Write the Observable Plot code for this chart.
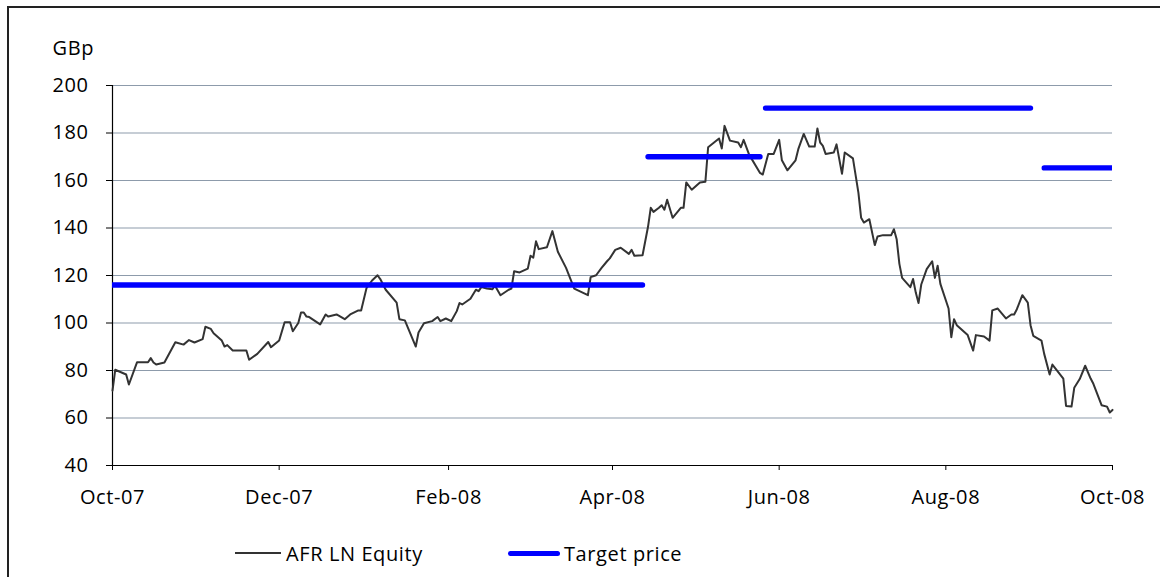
<!DOCTYPE html>
<html>
<head>
<meta charset="utf-8">
<script src="https://cdn.jsdelivr.net/npm/d3@7"></script>
<script src="https://cdn.jsdelivr.net/npm/@observablehq/plot@0.6"></script>
<style>
  html, body { margin: 0; padding: 0; background: #fff; overflow: hidden; }
  body { width: 1160px; height: 577px; position: relative; font-family: "Open Sans", sans-serif; }
  #frame { position: absolute; left: 7px; top: 6px; width: 1200px; height: 620px; border: 2px solid #222; box-sizing: border-box; pointer-events: none; }
  #chart { position: absolute; left: 0; top: 0; }
  #legend { position: absolute; left: 0; top: 530px; width: 1160px; height: 47px; font-size: 20px; letter-spacing: 0.6px; color: #000; }
  .item { position: absolute; top: 10px; display: flex; align-items: center; height: 26px; }
  .swatch { display: inline-block; }
</style>
</head>
<body>
<div id="chart"></div>
<div id="legend">
  <div class="item" style="left:235px"><span class="swatch" style="width:46px;height:0;border-top:2px solid #333;margin-right:5px"></span><span>AFR LN Equity</span></div>
  <div class="item" style="left:508px"><span class="swatch" style="width:52px;height:5px;background:#0000ff;border-radius:3px;margin-right:4px"></span><span>Target price</span></div>
</div>
<div id="frame"></div>
<script>
// ---- Data ----
const priceDates = [
  "2007-10-01","2007-10-02","2007-10-06","2007-10-07","2007-10-10","2007-10-14","2007-10-15","2007-10-16","2007-10-17","2007-10-20",
  "2007-10-24","2007-10-27","2007-10-29","2007-10-31","2007-11-03","2007-11-04","2007-11-06","2007-11-07","2007-11-10","2007-11-11",
  "2007-11-12","2007-11-14","2007-11-19","2007-11-20","2007-11-23","2007-11-27","2007-11-28","2007-12-01","2007-12-03","2007-12-05",
  "2007-12-06","2007-12-08","2007-12-09","2007-12-10","2007-12-11","2007-12-12","2007-12-16","2007-12-18","2007-12-19","2007-12-22",
  "2007-12-25","2007-12-27","2007-12-30","2007-12-31","2008-01-02","2008-01-04","2008-01-06","2008-01-07","2008-01-09","2008-01-13",
  "2008-01-14","2008-01-16","2008-01-20","2008-01-21","2008-01-23","2008-01-26","2008-01-28","2008-01-29","2008-01-31","2008-02-02",
  "2008-02-04","2008-02-05","2008-02-06","2008-02-09","2008-02-11","2008-02-12","2008-02-13","2008-02-15","2008-02-17","2008-02-18",
  "2008-02-20","2008-02-23","2008-02-24","2008-02-25","2008-02-27","2008-03-01","2008-03-02","2008-03-03","2008-03-04","2008-03-05",
  "2008-03-08","2008-03-10","2008-03-12","2008-03-15","2008-03-18","2008-03-23","2008-03-24","2008-03-26","2008-03-28","2008-03-30",
  "2008-03-31","2008-04-02","2008-04-04","2008-04-07","2008-04-08","2008-04-09","2008-04-12","2008-04-14","2008-04-15","2008-04-16",
  "2008-04-18","2008-04-19","2008-04-20","2008-04-21","2008-04-23","2008-04-26","2008-04-27","2008-04-28","2008-04-30","2008-05-03",
  "2008-05-05","2008-05-06","2008-05-10","2008-05-11","2008-05-12","2008-05-14","2008-05-17","2008-05-18","2008-05-19","2008-05-21",
  "2008-05-25","2008-05-26","2008-05-28","2008-05-30","2008-06-01","2008-06-02","2008-06-04","2008-06-07","2008-06-08","2008-06-10",
  "2008-06-12","2008-06-14","2008-06-15","2008-06-16","2008-06-17","2008-06-18","2008-06-21","2008-06-22","2008-06-24","2008-06-25",
  "2008-06-28","2008-06-30","2008-07-01","2008-07-02","2008-07-04","2008-07-06","2008-07-07","2008-07-09","2008-07-12","2008-07-13",
  "2008-07-14","2008-07-15","2008-07-16","2008-07-19","2008-07-20","2008-07-21","2008-07-22","2008-07-23","2008-07-25","2008-07-27",
  "2008-07-28","2008-07-29","2008-07-30","2008-08-02","2008-08-03","2008-08-04","2008-08-05","2008-08-09","2008-08-11","2008-08-12",
  "2008-08-15","2008-08-17","2008-08-18","2008-08-20","2008-08-23","2008-08-25","2008-08-26","2008-08-27","2008-08-29","2008-08-31",
  "2008-09-01","2008-09-02","2008-09-05","2008-09-06","2008-09-08","2008-09-09","2008-09-13","2008-09-14","2008-09-16","2008-09-17",
  "2008-09-19","2008-09-21","2008-09-23","2008-09-24","2008-09-27","2008-09-29","2008-09-30","2008-10-01"
];
const priceValues = [
  71.5,80.3,78.3,74.1,83.5,83.5,85.2,83.4,82.5,83.4,
  91.9,90.9,92.8,91.8,93.2,98.4,97.5,95.7,92.6,90.1,
  90.7,88.4,88.4,84.5,87.0,92.0,89.8,92.6,100.3,100.3,
  96.5,100.0,104.4,104.4,102.7,102.5,99.4,103.6,102.7,103.6,
  101.6,103.6,105.3,105.3,114.8,117.9,120.1,118.5,114.0,108.6,
  101.6,101.1,90.1,96.0,99.9,100.8,102.5,100.8,101.9,100.8,
  105.0,108.4,107.8,110.2,114.0,113.4,115.1,114.5,114.2,115.7,
  111.7,114.0,114.5,121.8,121.3,122.9,128.3,127.5,134.4,131.1,
  131.9,138.7,130.0,123.2,114.5,111.7,119.3,120.1,123.2,126.0,
  127.2,130.8,131.7,129.1,130.8,128.3,128.5,140.5,148.5,146.8,
  148.5,149.6,147.7,151.9,144.3,148.5,148.5,159.2,156.1,159.2,
  159.5,174.0,177.7,173.5,183.0,176.8,176.0,174.0,177.1,170.9,
  163.2,162.5,171.2,171.2,177.1,168.5,164.3,168.5,173.2,179.6,
  174.3,174.3,181.9,176.0,174.6,171.2,171.8,175.2,162.8,171.8,
  169.3,154.9,144.3,142.3,143.7,132.8,136.4,137.0,137.0,139.5,
  135.3,124.9,119.0,115.1,118.5,112.8,108.4,116.2,122.7,126.0,
  119.0,124.1,116.5,106.1,94.0,101.6,99.1,94.9,88.4,94.9,
  94.3,92.6,105.3,106.1,101.9,103.6,103.6,105.8,111.7,108.6,
  99.1,94.6,92.6,87.0,78.3,82.5,76.6,65.1,64.8,72.7,
  76.4,82.0,76.6,74.4,65.4,64.8,62.3,63.4
];
const targetStart = ["2007-10-01","2008-04-14","2008-05-27","2008-09-06"];
const targetEnd   = ["2008-04-12","2008-05-25","2008-09-01","2008-10-01"];
const targetValue = [116, 170, 190.5, 165.3];
const yTicks = [40, 60, 80, 100, 120, 140, 160, 180, 200];
const xTickDates = ["2007-10-01","2007-12-01","2008-02-01","2008-04-01","2008-06-01","2008-08-01","2008-10-01"];
const yUnit = "GBp";

// ---- Build ----
const parse = d3.utcParse("%Y-%m-%d");
const price = priceDates.map((d, i) => ({date: parse(d), value: priceValues[i]}));
const targets = targetStart.map((d, i) => ({x1: parse(d), x2: parse(targetEnd[i]), y: targetValue[i]}));
const xTicks = xTickDates.map(parse);

const chart = Plot.plot({
  width: 1160,
  height: 530,
  marginLeft: 112,
  marginRight: 48,
  marginTop: 85,
  marginBottom: 65,
  style: {fontFamily: "Open Sans, sans-serif", fontSize: "20px", letterSpacing: "0.6px", color: "#000", background: "transparent"},
  x: {type: "utc", domain: [parse("2007-10-01"), parse("2008-10-01")]},
  y: {domain: [40, 200]},
  marks: [
    Plot.gridY(yTicks.filter(t => t > 40), {stroke: "#8d9bab", strokeOpacity: 1, strokeWidth: 1.2}),
    Plot.ruleY([40], {stroke: "#000", strokeWidth: 1.2}),
    Plot.ruleX([parse("2007-10-01")], {stroke: "#000", strokeWidth: 1.2}),
    Plot.axisY({ticks: yTicks, tickSize: 6, tickPadding: 18, label: null, stroke: "#000"}),
    Plot.axisX({ticks: xTicks, tickFormat: d3.utcFormat("%b-%y"), tickSize: 5, tickPadding: 19, label: null, stroke: "#000"}),
    Plot.lineY(price, {x: "date", y: "value", stroke: "#333", strokeWidth: 2}),
    Plot.link(targets, {x1: "x1", x2: "x2", y1: "y", y2: "y", stroke: "#0000ff", strokeWidth: 5.3, strokeLinecap: "round", clip: true}),
    Plot.text([yUnit], {frameAnchor: "top-left", textAnchor: "start", dx: -60, dy: -44.5, fill: "#000"})
  ]
});
document.getElementById("chart").appendChild(chart);
</script>
</body>
</html>
